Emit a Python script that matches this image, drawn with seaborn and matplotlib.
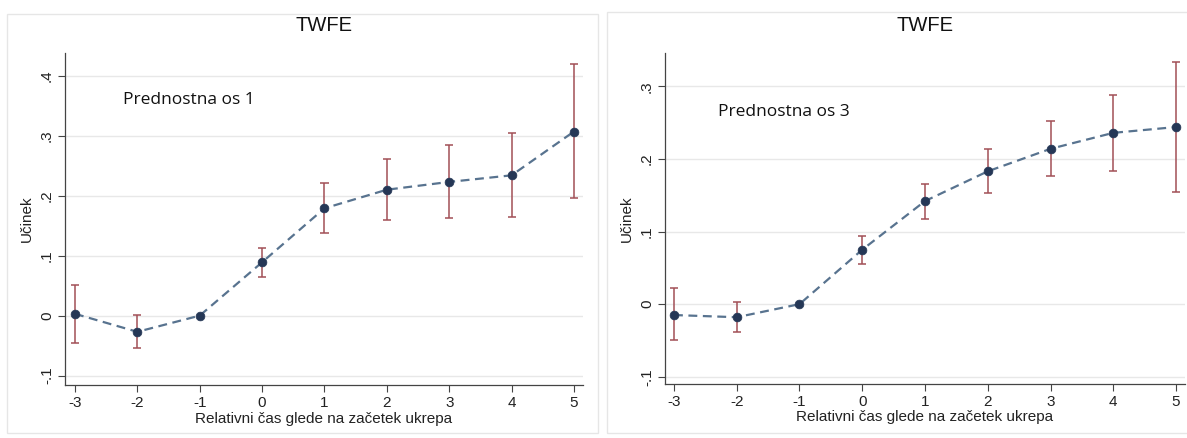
import matplotlib
matplotlib.use("Agg")
import matplotlib.pyplot as plt
import seaborn as sns
import pandas as pd
from matplotlib.patches import Rectangle

sns.set_theme(style="white")
plt.rcParams['font.family'] = ['Liberation Sans', 'DejaVu Sans']

# ---- data ----
rel_time = [-3, -2, -1, 0, 1, 2, 3, 4, 5]

axis1_est = [0.003, -0.027, 0.0, 0.089, 0.179, 0.210, 0.223, 0.234, 0.307]
axis1_lo = [-0.045, -0.054, 0.0, 0.064, 0.137, 0.159, 0.162, 0.164, 0.196]
axis1_hi = [0.051, 0.001, 0.0, 0.113, 0.222, 0.261, 0.284, 0.304, 0.419]

axis3_est = [-0.015, -0.018, 0.0, 0.075, 0.142, 0.183, 0.214, 0.236, 0.244]
axis3_lo = [-0.050, -0.038, 0.0, 0.056, 0.117, 0.153, 0.176, 0.184, 0.155]
axis3_hi = [0.022, 0.003, 0.0, 0.094, 0.166, 0.214, 0.253, 0.288, 0.333]

titles = ["TWFE", "TWFE"]
labels = ["Prednostna os 1", "Prednostna os 3"]
xlabel = "Relativni čas glede na začetek ukrepa"
ylabel = "Učinek"
yticks1 = [-0.1, 0, 0.1, 0.2, 0.3, 0.4]
yticks3 = [-0.1, 0, 0.1, 0.2, 0.3]

W, H = 1187, 438
fig = plt.figure(figsize=(W / 100, H / 100), dpi=100)
fig.patch.set_facecolor("white")

# panel frames (graph regions)
for (x0, y0, x1, y1) in [(7, 14, 598, 433), (607, 12, 1195, 433)]:
    fig.patches.append(Rectangle((x0 / W, 1 - y1 / H), (x1 - x0) / W, (y1 - y0) / H,
                                 transform=fig.transFigure, fill=False,
                                 edgecolor="#e6e6e6", linewidth=1.0))

def px_axes(l, r, t, b):
    return fig.add_axes([l / W, 1 - b / H, (r - l) / W, (b - t) / H])

ax1 = px_axes(65, 583, 53, 385)
ax3 = px_axes(665, 1185, 53, 384)

def fmt(v):
    if abs(v) < 1e-9:
        return "0"
    s = f"{v:.1f}"
    return s.replace("0.", ".")

line_col = "#58738f"
pt_col = "#253756"
ci_col = "#a24f56"

specs = [
    (ax1, axis1_est, axis1_lo, axis1_hi, yticks1, (-0.1157, 0.438), (-3.16, 5.145), (-2.23, 0.36), titles[0], labels[0]),
    (ax3, axis3_est, axis3_lo, axis3_hi, yticks3, (-0.110, 0.346), (-3.143, 5.143), (-2.30, 0.265), titles[1], labels[1]),
]

for ax, est, lo, hi, yt, ylim, xlim, tpos, title, lab in specs:
    df = pd.DataFrame({"t": rel_time, "b": est, "lo": lo, "hi": hi})
    for y in yt:
        ax.axhline(y, color="#e8e8e8", linewidth=1.0, zorder=0)
    ci = df[df["hi"] > df["lo"]]
    ax.vlines(ci["t"], ci["lo"], ci["hi"], color=ci_col, linewidth=1.1, zorder=2)
    ax.hlines(ci["lo"], ci["t"] - 0.065, ci["t"] + 0.065, color=ci_col, linewidth=1.1, zorder=2)
    ax.hlines(ci["hi"], ci["t"] - 0.065, ci["t"] + 0.065, color=ci_col, linewidth=1.1, zorder=2)
    sns.lineplot(data=df, x="t", y="b", ax=ax, color=line_col, linewidth=1.6,
                 linestyle=(0, (4, 2.5)), zorder=3)
    sns.scatterplot(data=df, x="t", y="b", ax=ax, color=pt_col, s=40,
                    edgecolor=pt_col, linewidth=0.5, zorder=4)
    ax.set_xlim(*xlim)
    ax.set_ylim(*ylim)
    ax.set_xticks(rel_time)
    ax.set_xticklabels([str(t) for t in rel_time], fontsize=11)
    ax.set_yticks(yt)
    ax.set_yticklabels([fmt(v) for v in yt], rotation=90, va="center", fontsize=11)
    for s in ["top", "right"]:
        ax.spines[s].set_visible(False)
    for s in ["left", "bottom"]:
        ax.spines[s].set_color("#444444")
        ax.spines[s].set_linewidth(0.9)
    ax.tick_params(axis="both", direction="out", length=5, width=0.8, color="#444444",
                   left=True, bottom=True, pad=3, labelcolor="#222222")
    ax.set_xlabel(xlabel, fontsize=11, color="#222222", labelpad=1)
    ax.set_ylabel(ylabel, fontsize=11, color="#222222", labelpad=4)
    ax.set_title(title, fontsize=14.5, color="#111111", pad=16)
    ax.text(tpos[0], tpos[1], lab, fontsize=12.5, family=["Open Sans", "DejaVu Sans"],
            color="#111111", va="center", ha="left")
    ax.set_facecolor("white")

fig.savefig("out.png", dpi=100, facecolor="white")
